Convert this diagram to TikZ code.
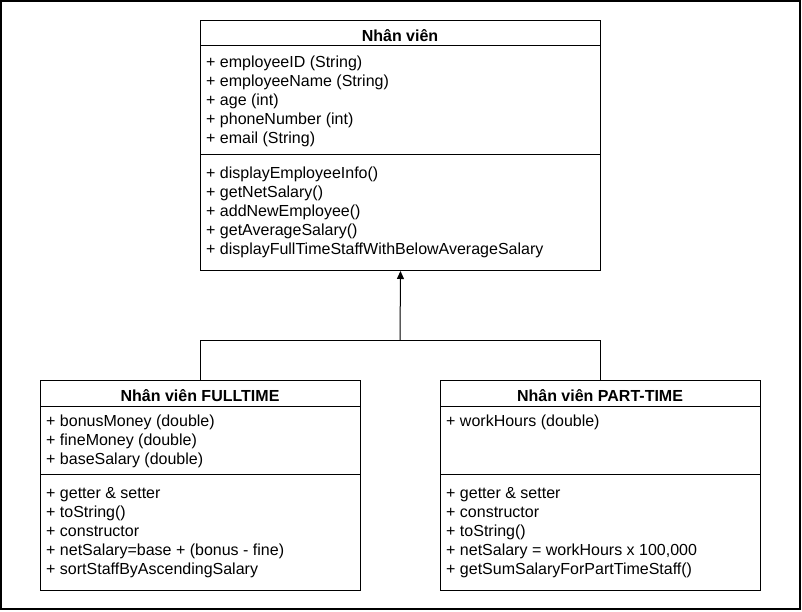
\documentclass[tikz,border=0pt]{standalone}
\usepackage{fontspec}
\setmainfont{Liberation Sans}
\usetikzlibrary{arrows.meta}
\begin{document}
\begin{tikzpicture}[x=1pt,y=-1pt,
  box/.style={draw, line width=1pt, inner sep=0pt, anchor=north west},
  txt/.style={anchor=base west, inner sep=0pt, font=\fontsize{16}{19}\selectfont},
  ttl/.style={anchor=base, inner sep=0pt, font=\fontsize{16}{19}\selectfont\bfseries},
  sepline/.style={line width=1pt},
  conn/.style={line width=1pt}
]
\useasboundingbox (0,0) rectangle (802,612);
\draw[line width=1.5pt] (1,1) rectangle (800,609);

% ---- base class ----
\node[box, minimum width=400pt, minimum height=250pt] (base) at (200,20) {};
\node[ttl] (baseT) at (400,42) {Nhân viên};
\draw[sepline] (200,46) -- (600,46);
\draw[sepline] (200,155) -- (600,155);
\foreach \t [count=\i] in {{+ employeeID (String)},{+ employeeName (String)},{+ age (int)},{+ phoneNumber (int)},{+ email (String)}}
  \node[txt] (ba\i) at (206,{67.7+19*(\i-1)}) {\t};
\foreach \t [count=\i] in {{+ displayEmployeeInfo()},{+ getNetSalary()},{+ addNewEmployee()},{+ getAverageSalary()},{+ displayFullTimeStaffWithBelowAverageSalary}}
  \node[txt] (bm\i) at (206,{178.5+19*(\i-1)}) {\t};

% ---- fulltime ----
\node[box, minimum width=320pt, minimum height=210pt] (ft) at (40,380) {};
\node[ttl] (ftT) at (200,401) {Nhân viên FULLTIME};
\draw[sepline] (40,406) -- (360,406);
\draw[sepline] (40,474) -- (360,474);
\foreach \t [count=\i] in {{+ bonusMoney (double)},{+ fineMoney (double)},{+ baseSalary (double)}}
  \node[txt] (fa\i) at (46,{426.7+19*(\i-1)}) {\t};
\foreach \t [count=\i] in {{+ getter \& setter},{+ toString()},{+ constructor},{+ netSalary=base + (bonus - fine)},{+ sortStaffByAscendingSalary}}
  \node[txt] (fm\i) at (46,{498.5+19*(\i-1)}) {\t};

% ---- parttime ----
\node[box, minimum width=320pt, minimum height=210pt] (pt) at (440,380) {};
\node[ttl] (ptT) at (600,401) {Nhân viên PART-TIME};
\draw[sepline] (440,406) -- (760,406);
\draw[sepline] (440,474) -- (760,474);
\node[txt] (pa1) at (446,426.7) {+ workHours (double)};
\foreach \t [count=\i] in {{+ getter \& setter},{+ constructor},{+ toString()},{+ netSalary = workHours x 100,000},{+ getSumSalaryForPartTimeStaff()}}
  \node[txt] (pm\i) at (446,{498.5+19*(\i-1)}) {\t};

% ---- connectors ----
\coordinate (j) at (400,340);
\draw[conn] (ft.north) -- (ft.north |- j) -- (pt.north |- j) -- (pt.north);
\draw[conn, -{Triangle[length=8pt,width=7pt]}] (j) -- (base.south);
\end{tikzpicture}
\end{document}
